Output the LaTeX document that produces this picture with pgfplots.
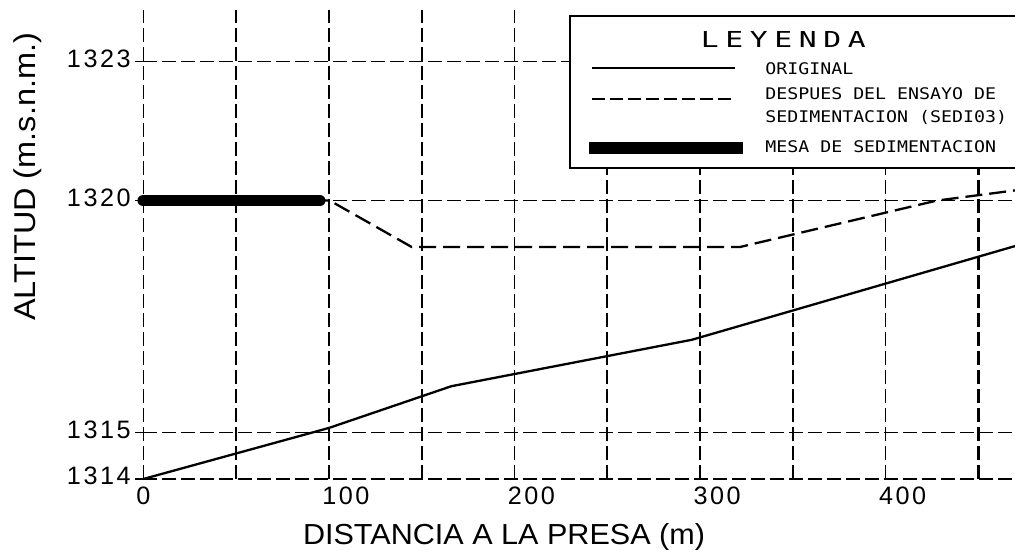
\documentclass[border=0pt]{standalone}
\usepackage{fontspec}
\usepackage{pgfplots}
\pgfplotsset{compat=1.18}
\setmainfont{Liberation Sans}
\newfontfamily\ticksfont{Liberation Sans}[LetterSpace=10]
\newfontfamily\legfont{DejaVu Sans Mono}[FakeStretch=1.14]
\newfontfamily\legtitlefont{DejaVu Sans Mono}[FakeStretch=1.35, LetterSpace=30]
% distance labels sit a little to the right of their grid line
\newcommand\rl[1]{\hspace*{17pt}#1}

\begin{document}
\begin{tikzpicture}
\useasboundingbox (-71.65pt,-36pt) rectangle (435.85pt,239.5pt);
\begin{axis}[
  at={(0,0)}, anchor=south west,
  x=0.928pt, y=23.2pt,
  xmin=0, xmax=469.7, ymin=1314, ymax=1324.11,
  clip=false,
  axis line style={draw=none},
  xtick={0,50,...,450},
  xticklabels={0,,\rl{100},,\rl{200},,\rl{300},,\rl{400},},
  ytick={1314,1315,1320,1323},
  yticklabels={1314,1315,1320,1323},
  xtick pos=bottom, ytick pos=left,
  grid=major,
  major grid style={black, line width=0.7pt, dash pattern=on 7pt off 2.5pt},
  xtick style={draw=none},
  ytick style={black, line width=0.7pt},
  tick align=outside, major tick length=4pt,
  extra x ticks={150,250,350,450},
  extra x tick labels={},
  extra x tick style={major grid style={black, line width=1.05pt, dash pattern=on 7pt off 2.5pt}},
  ticklabel style={font=\ticksfont\fontsize{12.6}{14}\selectfont, inner sep=0pt},
  xticklabel style={anchor=north, yshift=0.5pt},
  yticklabel style={anchor=east, xshift=-2.15pt, yshift=1.5pt},
  /pgf/number format/assume math mode=true,
  xlabel={\resizebox{201pt}{10.5pt}{DISTANCIA A LA PRESA (m)}},
  xlabel style={at={(rel axis cs:0.4138,-0.1386)}, anchor=base, inner sep=0pt},
  ylabel={\resizebox{144pt}{10.9pt}{ALTITUD (m.s.n.m.)}},
  ylabel style={at={(rel axis cs:-0.1242,0.644)}, anchor=base, inner sep=0pt},
]
% original ground profile
\addplot[black, line width=1.15pt] coordinates
  {(0,1314) (100,1315.1) (166,1316) (295.5,1317) (469.7,1319.02)};
% profile after the sedimentation test
\addplot[black, line width=1.15pt, dash pattern=on 8.5pt off 3.5pt] coordinates
  {(0,1320) (100.5,1320) (144.6,1319) (321.5,1319) (427.5,1320) (469.7,1320.22)};
% sedimentation table
\addplot[black, line width=5.9pt, line cap=round] coordinates
  {(0,1320) (95,1320)};
\end{axis}

% legend box
\fill[white] (213.35pt,231.5pt) rectangle (445pt,245pt);
\draw[line width=1pt, fill=white] (213.35pt,155.5pt) rectangle (445pt,231.5pt);
\node[font=\legtitlefont\fontsize{11}{13}\selectfont, anchor=base, inner sep=0pt]
  at (320pt,215.5pt) {LEYENDA};
\draw[line width=1.05pt] (224.35pt,205.65pt) -- (295.85pt,205.65pt);
\draw[line width=1.05pt, dash pattern=on 6.5pt off 2.5pt] (224.35pt,190pt) -- (295.85pt,190pt);
\draw[line width=6pt] (222.85pt,165.5pt) -- (299.85pt,165.5pt);
\begin{scope}[every node/.style={font=\legfont\fontsize{8}{9}\selectfont, anchor=base west, inner sep=0pt}]
\node at (310.85pt,202pt) {ORIGINAL};
\node at (310.85pt,189.5pt) {DESPUES DEL ENSAYO DE};
\node at (310.85pt,178pt) {SEDIMENTACION (SEDI03)};
\node at (310.85pt,163pt) {MESA DE SEDIMENTACION};
\end{scope}
\end{tikzpicture}
\end{document}
